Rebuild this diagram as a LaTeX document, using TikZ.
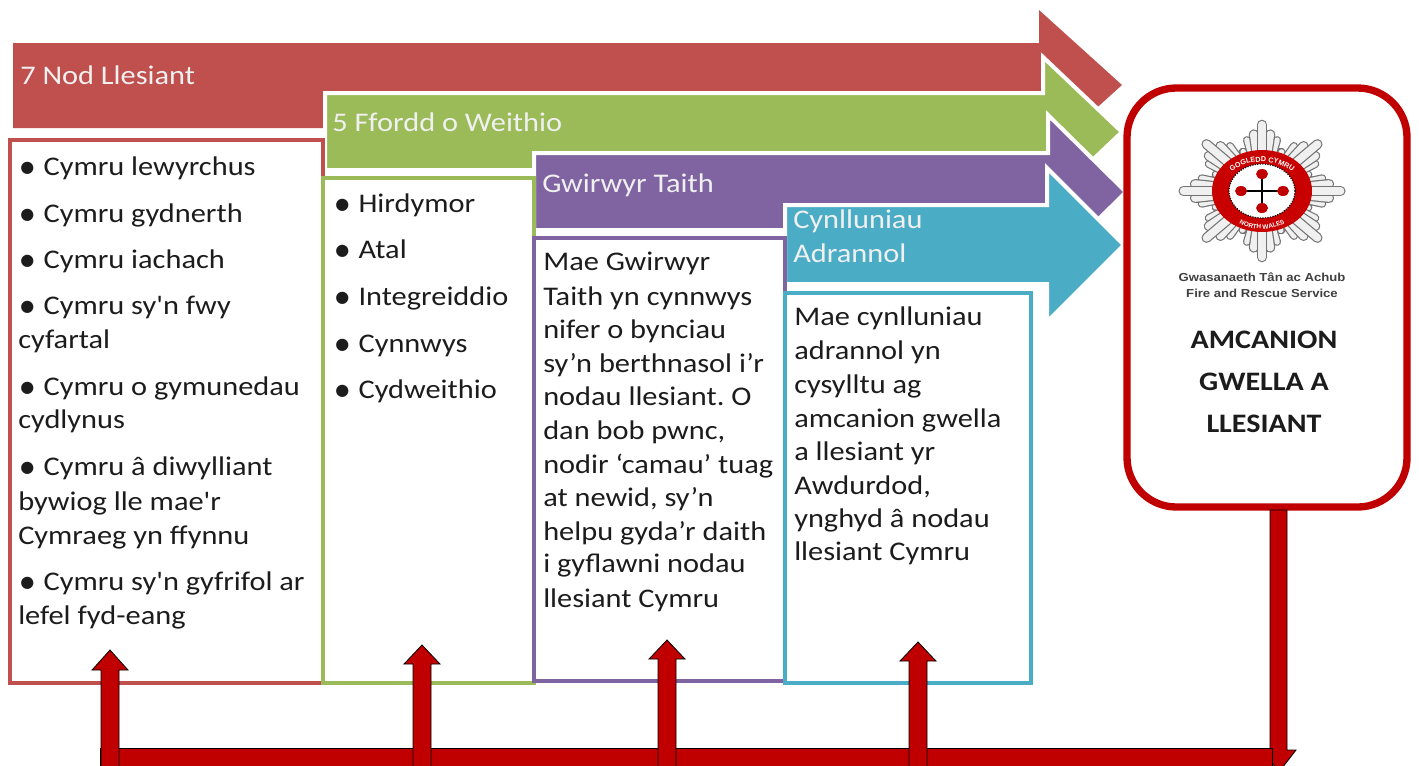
\documentclass[tikz,border=0pt]{standalone}
\usepackage{fontspec}
\setmainfont{Carlito}
\newfontfamily\wide[FakeStretch=1.128]{Carlito}
\newfontfamily\sym{DejaVu Sans}
\newfontfamily\lib[FakeStretch=1.13]{Liberation Sans}
\newfontfamily\ringfont{Liberation Sans}
\usetikzlibrary{decorations.text}
\definecolor{cred}{HTML}{C0504D}
\definecolor{cgreen}{HTML}{9BBB59}
\definecolor{cpurple}{HTML}{8064A2}
\definecolor{cblue}{HTML}{4BACC6}
\definecolor{dred}{HTML}{C00000}
\definecolor{ink}{HTML}{1C1C1C}
\tikzset{
  band/.style={line width=3pt,line join=miter,draw=white},
  panel/.style={line width=3pt,fill=white,line join=miter},
  body/.style={anchor=base west,inner sep=0pt,text=ink,font=\wide\fontsize{20.2}{24}\selectfont},
  head/.style={anchor=base west,inner sep=0pt,text=white!94!black,font=\wide\fontsize{20.2}{24}\selectfont},
  goal/.style={anchor=base,inner sep=0pt,text=ink,font=\wide\fontsize{20}{24}\selectfont\bfseries},
  org/.style={anchor=base,inner sep=0pt,text=black!75,font=\lib\fontsize{8.7}{9}\selectfont\bfseries},
  blockarrow/.style={fill=dred,draw=black,line width=0.6pt,line join=miter},
  ray/.style={line cap=round}
}
\newcommand{\bul}{\raisebox{1.8pt}{\sym\fontsize{12}{12}\selectfont ●}\hspace{7pt}}
\begin{document}
\begin{tikzpicture}[x=0.75pt,y=-0.75pt]
\useasboundingbox (0,0) rectangle (1419,765);
\clip (0,0) rectangle (1419,765);
\fill[white] (0,0) rectangle (1419,765);
% band arrows
\fill[cred] (13,43) -- (1039,43) -- (1039,10) -- (1122,85) -- (1039,160) -- (1039,128) -- (13,128) -- cycle;
\filldraw[band,fill=cgreen] (325,93) -- (1043,93) -- (1043,57) -- (1122,132) -- (1043,207) -- (1043,170) -- (325,170) -- cycle;
\filldraw[band,fill=cpurple] (534,153) -- (1048,153) -- (1048,115) -- (1126,192) -- (1048,269) -- (1048,230) -- (534,230) -- cycle;
\filldraw[band,fill=cblue] (785,205) -- (1047,205) -- (1047,168) -- (1124,245) -- (1047,322) -- (1047,284) -- (785,284) -- cycle;
% panels
\draw[panel,draw=cred] (10,140) rectangle (323,683);
\draw[panel,draw=cgreen] (323,178) rectangle (534,683);
\draw[panel,draw=cpurple] (534,238) rectangle (785,681);
\draw[panel,draw=cblue] (785,293) rectangle (1031,683);
% goal box
\draw[draw=dred,line width=5.5pt,fill=white,rounded corners=37pt] (1127,88) rectangle (1407,507);
% logo
\begin{scope}[shift={(1262,191)}]
\foreach \b in {0,45,...,315}{
  \foreach \o/\r in {22/46,-22/46,14/57,-14/57}{
    \pgfmathsetmacro{\ang}{\b+\o}
    \pgfmathsetmacro{\ex}{\r*1.09*cos(\ang)}
    \pgfmathsetmacro{\ey}{\r*0.92*sin(\ang)}
    \draw[ray,line width=6pt,draw=black!55] (0,0) -- (\ex,\ey);
    \draw[ray,line width=4.2pt,draw=black!6] (0,0) -- (\ex,\ey);
  }
}
\foreach \b in {0,45,...,315}{
  \foreach \o/\r in {7/62,-7/62,0/72}{
    \pgfmathsetmacro{\ang}{\b+\o}
    \pgfmathsetmacro{\ex}{\r*1.09*cos(\ang)}
    \pgfmathsetmacro{\ey}{\r*0.92*sin(\ang)}
    \draw[ray,line width=7.6pt,draw=black!55] (0,0) -- (\ex,\ey);
    \draw[ray,line width=5.8pt,draw=black!6] (0,0) -- (\ex,\ey);
  }
}
\fill[dred!85!red] (0,0) ellipse [x radius=50,y radius=41];
\fill[white] (0,0) ellipse [x radius=33,y radius=27];
\draw[black,line width=0.9pt,densely dotted] (0,0) ellipse [x radius=33,y radius=27];
\draw[black,line width=1.8pt] (-22,0) -- (22,0) (0,-20) -- (0,20);
\foreach \p in {(-21,0),(21,0),(0,-17),(0,17)}
  \fill[dred] \p ellipse [x radius=6,y radius=5];
\end{scope}
\path[decorate,decoration={text along path,text align=center,
  text={|\ringfont\fontsize{5.4}{6}\selectfont\bfseries\color{white}|GOGLEDD CYMRU}}]
  (1217,197) .. controls (1224,150) and (1300,150) .. (1307,197);
\path[decorate,decoration={text along path,text align=center,
  text={|\ringfont\fontsize{4.8}{6}\selectfont\bfseries\color{white}|NORTH WALES}}]
  (1222,203) .. controls (1236,238) and (1288,238) .. (1302,203);
\node[org] (orgcy) at (1262,281) {Gwasanaeth Tân ac Achub};
\node[org] (orgen) at (1262,297) {Fire and Rescue Service};
\node[goal] (g1) at (1264,348) {AMCANION};
\node[goal] (g2) at (1264,390) {GWELLA A};
\node[goal] (g3) at (1264,432) {LLESIANT};
% headers
\node[head] (h1) at (20,84) {7 Nod Llesiant};
\node[head] (h2) at (332,131) {5 Ffordd o Weithio};
\node[head] (h3) at (542,192) {Gwirwyr Taith};
\node[head] (h4a) at (793,228) {Cynlluniau};
\node[head] (h4b) at (793,262) {Adrannol};
% red list
\node[body] (r1) at (20,175) {\bul Cymru lewyrchus};
\node[body] (r2) at (20,222) {\bul Cymru gydnerth};
\node[body] (r3) at (20,268) {\bul Cymru iachach};
\node[body] (r4) at (20,314) {\bul Cymru sy'n fwy};
\node[body] (r4b) at (18,348) {cyfartal};
\node[body] (r5) at (20,395) {\bul Cymru o gymunedau};
\node[body] (r5b) at (18,428) {cydlynus};
\node[body] (r6) at (20,475) {\bul Cymru â diwylliant};
\node[body] (r6b) at (18,510) {bywiog lle mae'r};
\node[body] (r6c) at (18,544) {Cymraeg yn ffynnu};
\node[body] (r7) at (20,590) {\bul Cymru sy'n gyfrifol ar};
\node[body] (r7b) at (18,624) {lefel fyd-eang};
% green list
\node[body] (g1a) at (335,212) {\bul Hirdymor};
\node[body] (g2a) at (335,258) {\bul Atal};
\node[body] (g3a) at (335,305) {\bul Integreiddio};
\node[body] (g4a) at (335,352) {\bul Cynnwys};
\node[body] (g5a) at (335,398) {\bul Cydweithio};
% purple text
\node[body] (p1) at (543,270) {Mae Gwirwyr};
\node[body] (p2) at (543,305) {Taith yn cynnwys};
\node[body] (p3) at (543,338) {nifer o bynciau};
\node[body] (p4) at (543,372) {sy’n berthnasol i’r};
\node[body] (p5) at (543,405) {nodau llesiant.\ O};
\node[body] (p6) at (543,439) {dan bob pwnc,};
\node[body] (p7) at (543,473) {nodir ‘camau’ tuag};
\node[body] (p8) at (543,506) {at newid, sy’n};
\node[body] (p9) at (543,540) {helpu gyda’r daith};
\node[body] (p10) at (543,572) {i gyflawni nodau};
\node[body] (p11) at (543,607) {llesiant Cymru};
% blue text
\node[body] (b1) at (794,325) {Mae cynlluniau};
\node[body] (b2) at (794,359) {adrannol yn};
\node[body] (b3) at (794,393) {cysylltu ag};
\node[body] (b4) at (794,427) {amcanion gwella};
\node[body] (b5) at (794,460) {a llesiant yr};
\node[body] (b6) at (794,494) {Awdurdod,};
\node[body] (b7) at (794,527) {ynghyd â nodau};
\node[body] (b8) at (794,560) {llesiant Cymru};
% red connector arrows
\coordinate (barL) at (100,748);
\draw[blockarrow] (1270,510) -- (1287,510) -- (1287,750) -- (1296,750) -- (1279,772) -- (1262,750) -- (1270,750) -- cycle;
\fill[black] (barL) rectangle (1268,751);
\draw[blockarrow] (barL) rectangle (1272,775);
\fill[dred] (101,751) rectangle (1270,775);
\foreach \s/\t/\bb in {101/650/670,413/645/664,658/640/659,909/642/661}{
  \pgfmathsetmacro{\sr}{\s+18}\pgfmathsetmacro{\hl}{\s-9}\pgfmathsetmacro{\hr}{\s+27}\pgfmathsetmacro{\mi}{\s+9}
  \draw[blockarrow] (\s,775) -- (\s,\bb) -- (\hl,\bb) -- (\mi,\t) -- (\hr,\bb) -- (\sr,\bb) -- (\sr,775) -- cycle;
}
\end{tikzpicture}
\end{document}
